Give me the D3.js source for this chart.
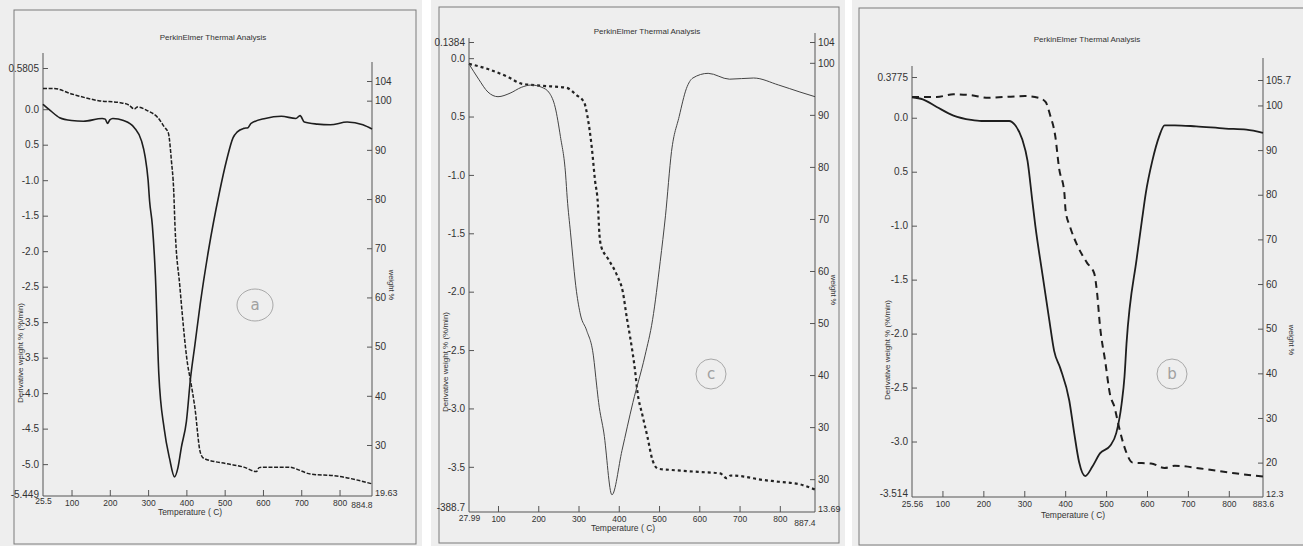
<!DOCTYPE html>
<html>
<head>
<meta charset="utf-8">
<script src="https://cdn.jsdelivr.net/npm/d3@7"></script>
<style>
body { margin: 0; background: #fff; }
svg { display: block; font-family: "Liberation Sans", Arial, sans-serif; }
</style>
</head>
<body>
<svg id="chart" width="1303" height="546"></svg>
<script>
// ---- data read off the three scanned TGA sheets (a, c, b) ----
// [temperature C, derivative weight %/min]
const aDeriv = [[25.5,0.07],[45,-0.02],[69,-0.12],[100,-0.16],[131,-0.17],[180,-0.13],[188,-0.14],[194,-0.2],[200,-0.15],[208,-0.13],[236,-0.16],[264,-0.26],[283,-0.45],[292,-0.66],[300,-1.0],[304,-1.3],[311,-1.63],[319,-2.34],[328,-3.73],[342,-4.5],[356,-4.92],[369,-5.18],[378,-5.05],[387,-4.76],[400,-4.4],[411,-3.78],[422,-3.33],[436,-2.75],[458,-1.98],[486,-1.18],[505,-0.72],[522,-0.4],[533,-0.32],[550,-0.27],[561,-0.26],[569,-0.2],[606,-0.13],[648,-0.1],[686,-0.13],[697,-0.09],[708,-0.18],[742,-0.21],[776,-0.22],[820,-0.18],[861,-0.22],[884.8,-0.28]];
// [temperature C, weight %]
const aWeight = [[25.5,102.5],[52,102.5],[103,101.3],[171,100],[227,99.6],[250,99.1],[264,98.3],[272,98.7],[300,97.9],[325,96.6],[342,94.7],[353,93.4],[361,87.7],[367,81.5],[370,75],[383,62.2],[403,46.5],[411,43],[422,37.7],[436,28.6],[445,27.3],[505,26.2],[550,25.5],[583,24.6],[590,25.4],[606,25.5],[666,25.5],[724,24.1],[792,23.7],[884.8,22.1]];

const cDeriv = [[27.99,-0.05],[52,-0.18],[75,-0.29],[100,-0.33],[130,-0.3],[158,-0.25],[183,-0.23],[209,-0.25],[228,-0.3],[242,-0.42],[255,-0.67],[268,-1.0],[272,-1.2],[280,-1.49],[295,-2.0],[305,-2.2],[320,-2.33],[337,-2.55],[345,-2.8],[350,-2.95],[363,-3.21],[383,-3.74],[408,-3.36],[435,-2.95],[465,-2.55],[484,-2.24],[503,-1.74],[516,-1.35],[531,-0.8],[550,-0.5],[568,-0.26],[584,-0.17],[622,-0.13],[675,-0.18],[735,-0.17],[797,-0.23],[850,-0.29],[887.4,-0.33]];
const cWeight = [[27.99,99.8],[75,98.8],[127,97.2],[158,96],[209,95.6],[270,95.2],[295,93.8],[314,92.4],[322,89.8],[333,83.7],[341,77.4],[348,73],[352,67],[356,64.8],[373,62.4],[396,59.1],[410,56],[420,51],[428,47.4],[441,40.5],[446,37],[459,32.2],[471,28.2],[484,23.6],[498,22],[526,21.8],[597,21.4],[652,21.1],[668,20.2],[678,20.7],[711,20.5],[745,20],[797,19.5],[850,19],[887.4,18]];

const bDeriv = [[25.56,0.19],[52,0.17],[86,0.1],[127,0.02],[170,-0.02],[195,-0.03],[245,-0.03],[263,-0.03],[278,-0.07],[295,-0.2],[308,-0.4],[320,-0.78],[327,-1.0],[344,-1.44],[361,-1.87],[373,-2.16],[388,-2.32],[410,-2.62],[422,-2.92],[434,-3.19],[449,-3.32],[467,-3.23],[485,-3.11],[510,-3.04],[525,-2.92],[538,-2.65],[545,-2.4],[550,-2.09],[575,-1.3],[588,-0.94],[597,-0.7],[613,-0.4],[630,-0.17],[643,-0.07],[668,-0.07],[720,-0.08],[792,-0.1],[843,-0.11],[883.6,-0.14]];
const bWeight = [[25.56,101.9],[86,101.9],[127,102.5],[170,102.3],[212,101.7],[253,101.9],[302,102.1],[336,101.7],[352,100.8],[363,97.9],[376,93],[385,86],[398,80.4],[401,76.5],[412,72.8],[429,68.8],[453,64.8],[471,62.4],[478,58],[485,50.7],[498,42.6],[510,35.1],[520,32.6],[532,27.8],[547,22.9],[565,20],[610,19.8],[643,18.8],[668,19.3],[738,18.6],[815,17.6],[883.6,16.9]];

// tick values and the labels as printed on each sheet
const aXTicks = [25.5,100,200,300,400,500,600,700,800,884.8];
const aLeftTicks = [0.5805,0,-0.5,-1,-1.5,-2,-2.5,-3,-3.5,-4,-4.5,-5,-5.449];
const aLeftLabels = ["0.5805","0.0","0.5","-1.0","-1.5","-2.0","-2.5","-3.5","-3.5","-4.0","-4.5","-5.0","-5.449"];
const aRightTicks = [104,100,90,80,70,60,50,40,30,19.63];
const aRightLabels = ["104","100","90","80","70","60","50","40","30","19.63"];

const cXTicks = [27.99,100,200,300,400,500,600,700,800,887.4];
const cLeftTicks = [0.1384,0,-0.5,-1,-1.5,-2,-2.5,-3,-3.5,-3.887];
const cLeftLabels = ["0.1384","0.0","0.5","-1.0","-1.5","-2.0","-2.5","-3.0","-3.5","-388.7"];
const cRightTicks = [104,100,90,80,70,60,50,40,30,20,13.69];
const cRightLabels = ["104","100","90","80","70","60","50","40","30","30","13.69"];

const bXTicks = [25.56,100,200,300,400,500,600,700,800,883.6];
const bLeftTicks = [0.3775,0,-0.5,-1,-1.5,-2,-2.5,-3,-3.514];
const bLeftLabels = ["0.3775","0.0","0.5","-1.0","-1.5","-2.0","-2.5","-3.0","-3.514"];
const bRightTicks = [105.7,100,90,80,70,60,50,40,30,20,12.3];
const bRightLabels = ["105.7","100","90","80","70","60","50","40","30","20","12.3"];

const titleText = "PerkinElmer Thermal Analysis";
const xTitle = "Temperature ( C)";
const leftTitle = "Derivative weight % (%/min)";
const rightTitle = "weight %";

// layout of each scanned sheet
const panels = [
    {
        mark: "a", deriv: aDeriv, weight: aWeight,
        xTicks: aXTicks, leftTicks: aLeftTicks, leftLabels: aLeftLabels, rightTicks: aRightTicks, rightLabels: aRightLabels,
        page: [0, 422], frame: [14, 10, 416, 544],
        left: 43, right: 372, bottom: 496,
        leftTop: 68, leftLine: 53, rightTop: 81, rightLine: 62,
        firstXDy: "0.45em", lastXAnchor: "end", lastXDy: "0.9em", bottomLeftDy: "0.1em",
        title: [213, 40], xTitlePos: [190, 515], leftTitlePos: [20, 353], rightTitlePos: [392, 285],
        markPos: [255, 305, 18, 16],
        derivStyle: {w: 1.6, c: "#1e1e1e"}, weightStyle: {w: 1.5, c: "#1e1e1e", dash: "4,1.6"}
    },
    {
        mark: "c", deriv: cDeriv, weight: cWeight,
        xTicks: cXTicks, leftTicks: cLeftTicks, leftLabels: cLeftLabels, rightTicks: cRightTicks, rightLabels: cRightLabels,
        page: [431, 845], frame: [439, 7, 839, 543],
        left: 469, right: 815, bottom: 512,
        leftTop: 42, leftLine: 38, rightTop: 42, rightLine: 33,
        firstXDy: "0.6em", lastXAnchor: "end", lastXDy: "1.2em", bottomLeftDy: "-0.15em",
        title: [647, 34], xTitlePos: [623, 531], leftTitlePos: [445, 362], rightTitlePos: [834, 290],
        markPos: [711, 374, 15, 15],
        derivStyle: {w: 1, c: "#444"}, weightStyle: {w: 2.2, c: "#222", dash: "3,3"}
    },
    {
        mark: "b", deriv: bDeriv, weight: bWeight,
        xTicks: bXTicks, leftTicks: bLeftTicks, leftLabels: bLeftLabels, rightTicks: bRightTicks, rightLabels: bRightLabels,
        page: [852, 1303], frame: [859, 8, 1310, 545],
        left: 912, right: 1263, bottom: 497,
        leftTop: 77, leftLine: 66, rightTop: 80, rightLine: 58,
        firstXDy: "0.65em", lastXAnchor: "middle", lastXDy: "0.71em", bottomLeftDy: "-0.05em",
        title: [1087, 42], xTitlePos: [1073, 518], leftTitlePos: [887, 350], rightTitlePos: [1292, 340],
        markPos: [1172, 374, 15, 15],
        derivStyle: {w: 1.8, c: "#1e1e1e"}, weightStyle: {w: 2, c: "#1e1e1e", dash: "7,5"}
    }
];

const svg = d3.select("#chart");

panels.forEach(drawPanel);

function drawPanel(p) {
    let g = svg.append("g");

    // scanned page + printed frame
    g.append("rect")
        .attr("x", p.page[0]).attr("y", 0)
        .attr("width", p.page[1] - p.page[0]).attr("height", 546)
        .attr("fill", "#eeeeee");
    g.append("rect")
        .attr("x", p.frame[0]).attr("y", p.frame[1])
        .attr("width", p.frame[2] - p.frame[0]).attr("height", p.frame[3] - p.frame[1])
        .attr("fill", "none").attr("stroke", "#7a7a7a").attr("stroke-width", 1);

    let x = d3.scaleLinear()
        .domain([p.xTicks[0], p.xTicks[p.xTicks.length - 1]])
        .range([p.left, p.right]);
    let yL = d3.scaleLinear()
        .domain([p.leftTicks[p.leftTicks.length - 1], p.leftTicks[0]])
        .range([p.bottom, p.leftTop]);
    let yR = d3.scaleLinear()
        .domain([p.rightTicks[p.rightTicks.length - 1], p.rightTicks[0]])
        .range([p.bottom, p.rightTop]);

    // axis lines
    g.append("line").attr("x1", p.left).attr("x2", p.left).attr("y1", p.bottom).attr("y2", p.leftLine)
        .attr("stroke", "#555");
    g.append("line").attr("x1", p.right).attr("x2", p.right).attr("y1", p.bottom).attr("y2", p.rightLine)
        .attr("stroke", "#555");
    g.append("line").attr("x1", p.left).attr("x2", p.right).attr("y1", p.bottom).attr("y2", p.bottom)
        .attr("stroke", "#555");

    // left axis: ticks inward, labels outside
    let gl = g.append("g")
        .attr("transform", `translate(${p.left},0)`)
        .call(d3.axisLeft(yL).tickValues(p.leftTicks).tickSize(-5).tickPadding(4)
            .tickFormat((d, i) => p.leftLabels[i]));
    styleAxis(gl, 10);
    let lastL = gl.selectAll(".tick").filter((d, i) => i === p.leftTicks.length - 1);
    lastL.select("line").remove();
    lastL.select("text").attr("dy", p.bottomLeftDy);

    let gr = g.append("g")
        .attr("transform", `translate(${p.right},0)`)
        .call(d3.axisRight(yR).tickValues(p.rightTicks).tickSize(-5).tickPadding(3)
            .tickFormat((d, i) => p.rightLabels[i]));
    styleAxis(gr, 10);
    let lastR = gr.selectAll(".tick").filter((d, i) => i === p.rightTicks.length - 1);
    lastR.select("line").remove();
    lastR.select("text").attr("dy", "-0.05em").attr("font-size", 9);

    let gx = g.append("g")
        .attr("transform", `translate(0,${p.bottom})`)
        .call(d3.axisBottom(x).tickValues(p.xTicks).tickSize(-6).tickPadding(4)
            .tickFormat(d => String(d)));
    styleAxis(gx, 8.5);
    let n = p.xTicks.length;
    gx.selectAll(".tick").filter((d, i) => i === 0 || i === n - 1).select("line").remove();
    gx.selectAll(".tick").filter((d, i) => i === 0).select("text").attr("dy", p.firstXDy);
    gx.selectAll(".tick").filter((d, i) => i === n - 1).select("text")
        .attr("text-anchor", p.lastXAnchor).attr("dy", p.lastXDy);

    // titles
    g.append("text").attr("x", p.title[0]).attr("y", p.title[1])
        .attr("text-anchor", "middle").attr("font-size", 8).attr("fill", "#333").text(titleText);
    g.append("text").attr("x", p.xTitlePos[0]).attr("y", p.xTitlePos[1])
        .attr("text-anchor", "middle").attr("font-size", 8.5).attr("fill", "#333").text(xTitle);
    g.append("text")
        .attr("transform", `translate(${p.leftTitlePos[0]},${p.leftTitlePos[1]}) rotate(-90)`)
        .attr("text-anchor", "middle").attr("dy", "0.35em")
        .attr("font-size", 8).attr("fill", "#333").text(leftTitle);
    g.append("text")
        .attr("transform", `translate(${p.rightTitlePos[0]},${p.rightTitlePos[1]}) rotate(90)`)
        .attr("text-anchor", "middle").attr("dy", "0.35em")
        .attr("font-size", 7.5).attr("fill", "#333").text(rightTitle);

    // curves
    let derivLine = d3.line()
        .x(d => x(d[0])).y(d => yL(d[1]))
        .curve(d3.curveMonotoneX);
    let weightLine = d3.line()
        .x(d => x(d[0])).y(d => yR(d[1]))
        .curve(d3.curveMonotoneX);

    g.append("path").datum(p.weight)
        .attr("d", weightLine)
        .attr("fill", "none")
        .attr("stroke", p.weightStyle.c)
        .attr("stroke-width", p.weightStyle.w)
        .attr("stroke-dasharray", p.weightStyle.dash);

    g.append("path").datum(p.deriv)
        .attr("d", derivLine)
        .attr("fill", "none")
        .attr("stroke", p.derivStyle.c)
        .attr("stroke-width", p.derivStyle.w)
        .attr("stroke-linejoin", "round");

    // pencil mark on the sheet
    g.append("ellipse")
        .attr("cx", p.markPos[0]).attr("cy", p.markPos[1])
        .attr("rx", p.markPos[2]).attr("ry", p.markPos[3])
        .attr("fill", "none").attr("stroke", "#a8a8a8").attr("stroke-width", 1);
    g.append("text")
        .attr("x", p.markPos[0]).attr("y", p.markPos[1])
        .attr("dy", "0.35em").attr("text-anchor", "middle")
        .attr("font-size", 15).attr("font-family", "DejaVu Sans")
        .attr("fill", "#a0a0a0").text(p.mark);
}

function styleAxis(sel, size) {
    sel.select(".domain").remove();
    sel.selectAll(".tick line").attr("stroke", "#555");
    sel.selectAll(".tick text")
        .attr("font-size", size)
        .attr("font-family", "Liberation Sans, Arial, sans-serif")
        .attr("fill", "#333");
}
</script>
</body>
</html>
